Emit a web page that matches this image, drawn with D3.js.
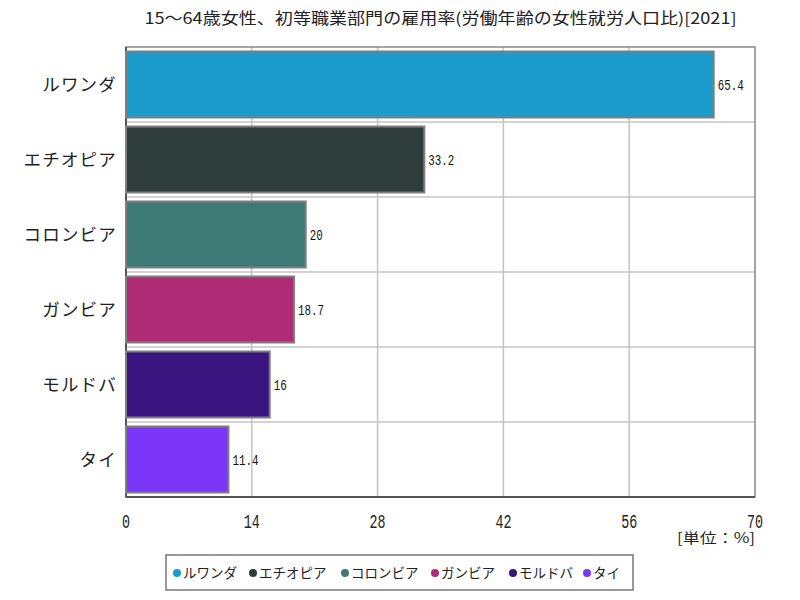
<!DOCTYPE html>
<html><head><meta charset="utf-8">
<script src="https://cdn.jsdelivr.net/npm/d3@7"></script>
<style>body{margin:0;background:#fff}svg{display:block}</style>
</head><body><svg id="c" width="800" height="600"></svg>
<script>
const categories = ["ルワンダ","エチオピア","コロンビア","ガンビア","モルドバ","タイ"];
const values = [65.4, 33.2, 20, 18.7, 16, 11.4];
const labels = ["65.4","33.2","20","18.7","16","11.4"];
const colors = ["#1b9ccc","#2f3d3d","#3d7a76","#b02b76","#3a1580","#7b36f7"];
const ticks = [0,14,28,42,56,70];
const title = "15〜64歳女性、初等職業部門の雇用率(労働年齢の女性就労人口比)[2021]";
const unit = "[単位：%]";

const JP = "'Noto Sans CJK JP','Noto Sans',sans-serif";
const MONO = "'Liberation Mono','DejaVu Sans Mono',monospace";
const svg = d3.select("#c");
const m = {l:126, r:755, t:47, b:497};
const x = d3.scaleLinear().domain([0,70]).range([m.l,m.r]);
const y = d3.scaleBand().domain(categories).range([m.t,m.b]).paddingInner(0.12).paddingOuter(0.06);

svg.append("text").attr("x",(m.l+m.r)/2).attr("y",24).attr("text-anchor","middle")
  .style("font-family",JP).attr("font-size",15.5).attr("fill","#222")
  .attr("textLength",592).attr("lengthAdjust","spacingAndGlyphs").text(title);

// grid
const g = svg.append("g");
g.selectAll(".vg").data(ticks.slice(1,-1)).join("line")
  .attr("x1",d=>x(d)).attr("x2",d=>x(d)).attr("y1",m.t).attr("y2",m.b)
  .attr("stroke","#c4c4c4").attr("stroke-width",1.5);
const step = (m.b-m.t)/categories.length;
g.selectAll(".hg").data(d3.range(1,categories.length)).join("line")
  .attr("x1",m.l).attr("x2",m.r).attr("y1",d=>m.t+d*step).attr("y2",d=>m.t+d*step)
  .attr("stroke","#c4c4c4").attr("stroke-width",1.5);

// frame
svg.append("rect").attr("x",m.l).attr("y",m.t).attr("width",m.r-m.l).attr("height",m.b-m.t)
  .attr("fill","none").attr("stroke","#888").attr("stroke-width",1.5);
svg.append("line").attr("x1",m.l).attr("x2",m.l).attr("y1",m.t).attr("y2",m.b).attr("stroke","#555").attr("stroke-width",2);
svg.append("line").attr("x1",m.l).attr("x2",m.r).attr("y1",m.b).attr("y2",m.b).attr("stroke","#555").attr("stroke-width",2);

// bars
svg.selectAll(".bar").data(categories).join("rect")
  .attr("x",x(0)).attr("y",d=>y(d)).attr("width",(d,i)=>x(values[i])-x(0)).attr("height",y.bandwidth())
  .attr("fill",(d,i)=>colors[i]).attr("stroke","#7f7f7f").attr("stroke-width",2);

svg.selectAll(".vl").data(categories).join("text")
  .attr("x",(d,i)=>x(values[i])+4).attr("y",d=>y(d)+y.bandwidth()/2+5)
  .attr("font-size",14).attr("fill","#111").style("font-family",MONO)
  .attr("textLength",(d,i)=>labels[i].length*6.5).attr("lengthAdjust","spacingAndGlyphs")
  .text((d,i)=>labels[i]);

// y labels
svg.selectAll(".yl").data(categories).join("text")
  .attr("x",m.l-9).attr("y",d=>y(d)+y.bandwidth()/2+6).attr("text-anchor","end")
  .style("font-family",JP).attr("font-size",17.5).attr("letter-spacing",1.2).attr("fill","#222").text(d=>d);

// x ticks
svg.selectAll(".xt").data(ticks).join("text")
  .attr("x",d=>x(d)).attr("y",528).attr("text-anchor","middle")
  .attr("font-size",21).attr("fill","#222").style("font-family",MONO)
  .attr("textLength",d=>String(d).length*8).attr("lengthAdjust","spacingAndGlyphs")
  .text(d=>d);
svg.append("text").attr("x",m.r).attr("y",543).attr("text-anchor","end")
  .style("font-family",JP).attr("font-size",14).attr("fill","#222")
  .attr("textLength",78).attr("lengthAdjust","spacingAndGlyphs").text(unit);

// legend
svg.append("rect").attr("x",166).attr("y",555).attr("width",467).attr("height",35)
  .attr("fill","#fff").attr("stroke","#777").attr("stroke-width",1.5);
const lx = [177,253,345,435,513,587];
const lg = svg.selectAll(".lg").data(categories).join("g").attr("transform",(d,i)=>`translate(${lx[i]},573)`);
lg.append("circle").attr("r",4).attr("fill",(d,i)=>colors[i]);
lg.append("text").attr("x",6).attr("y",5).style("font-family",JP).attr("font-size",13.5).attr("fill","#222").text(d=>d);
</script></body></html>
